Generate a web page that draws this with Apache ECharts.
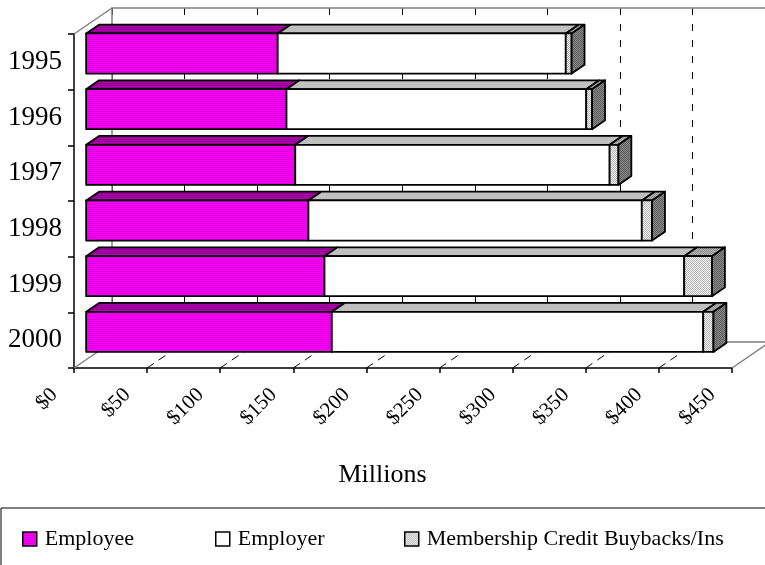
<!DOCTYPE html>
<html>
<head>
<meta charset="utf-8">
<script src="https://cdn.jsdelivr.net/npm/echarts@6/dist/echarts.min.js"></script>
<style>
  html, body { margin: 0; padding: 0; background: #fff; }
  #chart { width: 765px; height: 565px; }
</style>
</head>
<body>
<div id="chart"></div>
<script>
// Pension contributions by source, in millions of dollars
const years = ['1995', '1996', '1997', '1998', '1999', '2000'];
const employee = [131, 137, 143, 152, 163, 168];
const employer = [197, 205, 215, 228, 246, 254];
const membership = [4, 4, 6, 7, 19, 7];
const xTicks = [0, 50, 100, 150, 200, 250, 300, 350, 400, 450];
const seriesNames = ['Employee', 'Employer', 'Membership Credit Buybacks/Ins'];

const FONT = '"Liberation Serif", "Times New Roman", serif';
const DEPTH = [38, -26];          // offset from the front plane to the back wall
const FRONT_T = 0.32, BACK_T = 0.66; // depth of the bar faces inside the box
const BAR_FILL = 0.72;            // bar height as a share of the category band

function pattern(w, h, draw) {
  const c = document.createElement('canvas');
  c.width = w; c.height = h;
  draw(c.getContext('2d'));
  return { image: c, repeat: 'repeat' };
}
function stripes(a, b) {
  return pattern(2, 2, ctx => {
    ctx.fillStyle = a; ctx.fillRect(0, 0, 2, 1);
    ctx.fillStyle = b; ctx.fillRect(0, 1, 2, 1);
  });
}
function dots(a, b) {
  return pattern(2, 2, ctx => {
    ctx.fillStyle = a; ctx.fillRect(0, 0, 2, 2);
    ctx.fillStyle = b; ctx.fillRect(0, 0, 1, 1); ctx.fillRect(1, 1, 1, 1);
  });
}

const faces = [
  { front: stripes('#FF00FF', '#DD00DD'), top: stripes('#B000B0', '#900090'), side: '#900090' },
  { front: '#FFFFFF', top: '#C0C0C0', side: '#C0C0C0' },
  { front: dots('#F4F4F4', '#B4B4B4'), top: dots('#B8B8B8', '#8C8C8C'), side: dots('#8C8C8C', '#5A5A5A') }
];

// stacked segments: [category index, start, end]
const stacks = [employee, employer, membership];
const segData = stacks.map((vals, s) => vals.map((v, i) => {
  let start = 0;
  for (let k = 0; k < s; k++) start += stacks[k][i];
  return [i, start, start + v];
}));

function makeBarRenderer(si, isLast) {
  return function (params, api) {
    const cat = api.value(0);
    const a = api.coord([api.value(1), cat]);
    const b = api.coord([api.value(2), cat]);
    const band = api.size([0, 1])[1];
    const h = band * BAR_FILL;
    const fx = DEPTH[0] * FRONT_T, fy = DEPTH[1] * FRONT_T;
    const dx = DEPTH[0] * (BACK_T - FRONT_T), dy = DEPTH[1] * (BACK_T - FRONT_T);
    const x0 = a[0] + fx, x1 = b[0] + fx;
    const top = a[1] + fy - h / 2, bottom = a[1] + fy + h / 2;
    const line = { stroke: '#000', lineWidth: 1.8, lineJoin: 'round' };
    const children = [
      { type: 'polygon', shape: { points: [[x0, top], [x1, top], [x1 + dx, top + dy], [x0 + dx, top + dy]] },
        style: Object.assign({ fill: faces[si].top }, line) },
      { type: 'rect', shape: { x: x0, y: top, width: x1 - x0, height: bottom - top },
        style: Object.assign({ fill: faces[si].front }, line) }
    ];
    if (isLast) {
      children.push({ type: 'polygon',
        shape: { points: [[x1, top], [x1 + dx, top + dy], [x1 + dx, bottom + dy], [x1, bottom]] },
        style: Object.assign({ fill: faces[si].side }, line) });
    }
    return { type: 'group', children };
  };
}

function renderFrame(params, api) {
  const v = api.value(0);
  const cs = params.coordSys;
  const x = api.coord([v, 0])[0];
  const floorY = cs.y + cs.height;
  const edge = v === xTicks[0] || v === xTicks[xTicks.length - 1];
  const children = [{
    type: 'line',
    shape: { x1: x, y1: floorY, x2: x + DEPTH[0], y2: floorY + DEPTH[1] },
    style: edge ? { stroke: '#808080', lineWidth: 1.5 } : { stroke: '#000', lineWidth: 1, lineDash: [8, 6] }
  }];
  if (params.dataIndex === 0) {
    children.push({ type: 'line',
      shape: { x1: cs.x, y1: cs.y, x2: cs.x + DEPTH[0], y2: cs.y + DEPTH[1] },
      style: { stroke: '#808080', lineWidth: 1.5 } });
    children.push({ type: 'rect',
      shape: { x: cs.x + DEPTH[0], y: cs.y + DEPTH[1], width: cs.width + 20, height: cs.height },
      style: { fill: 'none', stroke: '#808080', lineWidth: 1.5 } });
  }
  return { type: 'group', children };
}

const chart = echarts.init(document.getElementById('chart'), null, { renderer: 'canvas' });

const legendLeft = [22, 215, 404];
const legendIcon = [
  { color: faces[0].front, borderColor: '#000', borderWidth: 1.5 },
  { color: '#FFFFFF', borderColor: '#000', borderWidth: 1.5 },
  { color: faces[2].front, borderColor: '#000', borderWidth: 1.5 }
];

chart.setOption({
  animation: false,
  backgroundColor: '#fff',
  title: {
    text: 'Millions', left: 'center', top: 457,
    textStyle: { fontFamily: FONT, fontSize: 26, fontWeight: 'normal', color: '#000' }
  },
  legend: seriesNames.map((n, i) => ({
    data: [{ name: n, itemStyle: legendIcon[i] }],
    left: legendLeft[i], top: 528, padding: 0,
    icon: 'rect', itemWidth: 14, itemHeight: 14, selectedMode: false,
    textStyle: { fontFamily: FONT, fontSize: 22, color: '#000', padding: [0, 0, 0, 3] }
  })),
  graphic: [{
    type: 'rect', silent: true, z: -1,
    shape: { x: 1, y: 508, width: 780, height: 80 },
    style: { fill: 'none', stroke: '#000', lineWidth: 1 }
  }],
  grid: [
    { left: 74, top: 34, width: 658, height: 334 },
    { left: 112, top: 8, width: 658, height: 334 }
  ],
  xAxis: [
    {
      gridIndex: 0, type: 'value', min: 0, max: 450, interval: 50,
      axisLine: { show: true, lineStyle: { color: '#000', width: 1.5 } },
      axisTick: { show: true, length: 5, lineStyle: { color: '#000', width: 1.5 } },
      splitLine: { show: false },
      axisLabel: {
        rotate: 45, margin: 4, padding: [0, 28, 0, 0],
        fontFamily: FONT, fontSize: 21, color: '#000',
        formatter: v => '$' + v
      }
    },
    {
      gridIndex: 1, type: 'value', min: 0, max: 450, interval: 50,
      axisLine: { show: false }, axisTick: { show: false }, axisLabel: { show: false },
      splitLine: { show: true, lineStyle: { color: '#000', width: 1, type: [7, 9] } }
    }
  ],
  yAxis: [
    {
      gridIndex: 0, type: 'category', data: years, inverse: true,
      axisLine: { show: true, lineStyle: { color: '#000', width: 1.5 } },
      axisTick: { show: true, length: 6, lineStyle: { color: '#000', width: 1.5 } },
      axisLabel: { margin: 12, fontFamily: FONT, fontSize: 27, color: '#000' }
    },
    { gridIndex: 1, type: 'category', data: years, inverse: true, show: false }
  ],
  series: [
    {
      name: 'frame', type: 'custom', xAxisIndex: 0, yAxisIndex: 0, z: 1, silent: true,
      renderItem: renderFrame,
      data: xTicks.map(v => [v, 0]),
      encode: { x: 0, y: 1 }
    }
  ].concat(seriesNames.map((n, si) => ({
    name: n, type: 'custom', xAxisIndex: 0, yAxisIndex: 0, z: 2,
    renderItem: makeBarRenderer(si, si === seriesNames.length - 1),
    data: segData[si],
    encode: { x: [1, 2], y: 0 }
  })))
});
</script>
</body>
</html>
